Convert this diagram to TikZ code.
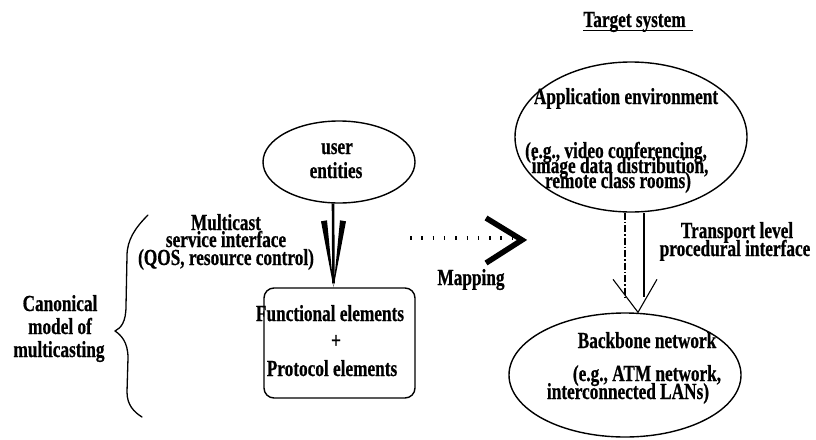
\documentclass[tikz,border=0pt]{standalone}
\usepackage{fontspec}
\newfontfamily\labfont{Liberation Serif}[FakeStretch=0.75, FakeBold=0.6]
\usetikzlibrary{shapes.geometric}
\begin{document}
\begin{tikzpicture}[x=1pt,y=-1pt,
  lbl/.style={font=\labfont\bfseries\fontsize{23}{24}\selectfont, inner sep=0pt, anchor=base},
  outline/.style={draw, line width=1.4pt},
  oval/.style={outline, ellipse, inner sep=0pt},
  thinline/.style={line width=1.1pt},
  dotline/.style={line width=4pt, dash pattern=on 1.5pt off 9.8pt},
  bracepath/.style={line width=1.3pt, line cap=round, line join=round}]
\useasboundingbox (0,0) rectangle (816,439);
\clip (0,0) rectangle (816,439);

% ---- canonical model (left half) ----
\node[oval, minimum width=152, minimum height=82] (ue) at (339,162) {};
\node[lbl] (ue1) at (337,154) {user};
\node[lbl] (ue2) at (336,178) {entities};

\node[outline, rounded corners=10pt, minimum width=151, minimum height=110, inner sep=0pt] (fe) at (339.5,343) {};
\node[lbl] (fe1) at (330,321) {Functional elements};
\node[lbl] (fe2) at (336,348) {+};
\node[lbl] (fe3) at (332,376) {Protocol elements};

% service interface arrow: shaft plus two tapering barbs
\coordinate (ueout) at ([xshift=-6pt]ue.south);
\coordinate (fein) at ([xshift=-6pt]fe.north);
\draw[line width=2.6pt] (ueout) -- ([yshift=4pt]fein);
\fill ([shift={(-12.5,-66)}]fein) -- ([shift={(-6.5,-67)}]fein) -- (fein) -- cycle;
\fill ([shift={(6.5,-67)}]fein) -- ([shift={(12.5,-66)}]fein) -- (fein) -- cycle;

\node[lbl] (msi1) at (226,230) {Multicast};
\node[lbl] (msi2) at (226,247) {service interface};
\node[lbl] (msi3) at (226,265) {(QOS, resource control)};

\draw[bracepath] (148,215) .. controls (135,228) and (127,240) .. (127,256)
  -- (126,306) .. controls (126,322) and (121,328) .. (115,331)
  .. controls (121,335) and (128,342) .. (128,358)
  -- (127,392) .. controls (127,405) and (134,412) .. (142,417);

\node[lbl] (can1) at (60,311) {Canonical};
\node[lbl] (can2) at (60,334) {model of};
\node[lbl] (can3) at (59,357) {multicasting};

% ---- mapping ----
\coordinate (mapA) at (410,238);
\coordinate (mapB) at (514,238);
\draw[dotline] (mapA) -- (mapB);
\draw[line width=5.5pt, line join=miter, miter limit=10]
  ([shift={(-28,-20)}]mapB) -- ([shift={(8,2)}]mapB) -- ([shift={(-28,25)}]mapB);
\node[lbl] (map) at (471,285) {Mapping};

% ---- target system (right half) ----
\node[lbl] (ts) at (634.5,27) {Target system};
\draw[line width=1.1pt] ([yshift=-3.5pt]ts.base west) -- ([yshift=-3.5pt,xshift=7pt]ts.base east);

\node[oval, minimum width=232, minimum height=150] (ae) at (631,137) {};
\node[lbl] (ae1) at (626,104) {Application environment};
\node[lbl] (ae2) at (616,158) {(e.g., video conferencing,};
\node[lbl] (ae3) at (620,173) {image data distribution,};
\node[lbl] (ae4) at (618,188) {remote class rooms)};

\node[oval, minimum width=232, minimum height=124] (bb) at (625,375) {};
\node[lbl] (bb1) at (647,348) {Backbone network};
\node[lbl] (bb2) at (647,381) {(e.g., ATM network,};
\node[lbl] (bb3) at (628,399) {interconnected LANs)};

% transport level interface: hollow arrow with an open head
\coordinate (tptip) at ([xshift=13pt]bb.north);
\draw[thinline, dash pattern=on 7pt off 2pt on 1.5pt off 2pt] ([xshift=-6pt]ae.south) -- ([xshift=-6pt]ae.south |- 0,298);
\draw[thinline] ([xshift=13pt]ae.south) -- ([xshift=13pt]ae.south |- 0,297);
\draw[thinline] ([shift={(-25,-33)}]tptip) -- (tptip) -- ([shift={(19,-33)}]tptip);

\node[lbl] (tl1) at (737,238) {Transport level};
\node[lbl] (tl2) at (735,256) {procedural interface};
\end{tikzpicture}
\end{document}
